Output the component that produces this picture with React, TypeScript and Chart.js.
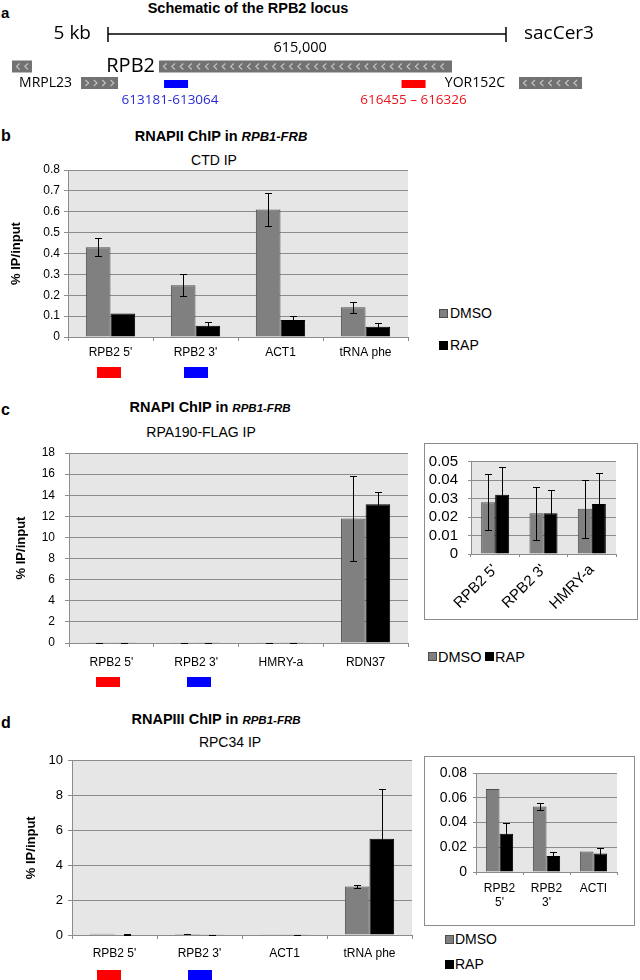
import React, { useEffect, useRef } from "react";
import { Chart, registerables } from "chart.js";
Chart.register(...registerables);

const AX = "'Liberation Sans', Arial, Helvetica, sans-serif";
const OS = "'Open Sans', 'Noto Sans', sans-serif";

// ---------- panel a: RPB2 locus schematic (genomic bp) ----------
const locusMinBp = 610700;
const locusMaxBp = 619507;
const scaleBarBp = [612186, 617663];
const scaleBarText = "5 kb";
const assemblyText = "sacCer3";
const coordTickText = "615,000";
const coordTickBp = 614830;
const geneStartBp = [610865, 612888, 611815, 617842];
const geneEndBp = [611140, 616920, 612324, 618709];
const geneStrand = [-1, -1, 1, -1];
const geneRow = [0, 0, 1, 1];
const geneName = ["", "RPB2", "MRPL23", "YOR152C"];
const primerStartBp = [613064, 616326];
const primerEndBp = [613181, 616455];
const primerText = ["613181-613064", "616455 \u2013 616326"];

// ---------- shared ----------
const seriesNames = ["DMSO", "RAP"];
const markerColors = ["#ff0000", "#0000ff"]; // under RPB2 5' and RPB2 3'

// ---------- panel b: RNAPII ChIP ----------
const catsB = ["RPB2 5'", "RPB2 3'", "ACT1", "tRNA phe"];
const dmsoB = [0.43, 0.248, 0.611, 0.143];
const dmsoErrB = [0.042, 0.052, 0.077, 0.027];
const rapB = [0.112, 0.054, 0.081, 0.049];
const rapErrB = [0, 0.017, 0.02, 0.017];
const yMaxB = 0.8;
const yStepB = 0.1;

// ---------- panel c: RNAPI ChIP ----------
const catsC = ["RPB2 5'", "RPB2 3'", "HMRY-a", "RDN37"];
const dmsoC = [0.028, 0.022, 0.0245, 11.8];
const dmsoErrC = [0.0152, 0.0143, 0.0157, 4.0];
const rapC = [0.032, 0.022, 0.027, 13.15];
const rapErrC = [0.015, 0.0127, 0.017, 1.2];
const yMaxC = 18;
const yStepC = 2;
const insetCatsC = ["RPB2 5'", "RPB2 3'", "HMRY-a"];
const insetYMaxC = 0.05;
const insetYStepC = 0.01;

// ---------- panel d: RNAPIII ChIP ----------
const catsD = ["RPB2 5'", "RPB2 3'", "ACT1", "tRNA phe"];
const dmsoD = [0.067, 0.053, 0.0165, 2.78];
const dmsoErrD = [0, 0.0027, 0, 0.09];
const rapD = [0.031, 0.013, 0.015, 5.52];
const rapErrD = [0.009, 0.003, 0.004, 2.83];
const yMaxD = 10;
const yStepD = 2;
const insetCatsD = [["RPB2", "5'"], ["RPB2", "3'"], "ACTI"];
const insetYMaxD = 0.08;
const insetYStepD = 0.02;

const GRID = "#8c8c8c";
const DMSO_FILL = "#808080";
const DMSO_EDGE = "#4d4d4d";

function makeSchematic(canvas: HTMLCanvasElement) {
  const plugin = {
    id: "locus",
    afterDraw(c: any) {
      const ctx = c.ctx;
      const xs = c.scales.x;
      const px = (b: number) => xs.getPixelForValue(b);
      const rowY = [66.5, 83];
      const boxH = 12;
      ctx.save();
      // scale bar
      const y0 = 34;
      const sx0 = px(scaleBarBp[0]);
      const sx1 = px(scaleBarBp[1]);
      ctx.strokeStyle = "#000";
      ctx.lineWidth = 1.5;
      ctx.beginPath();
      ctx.moveTo(sx0, y0);
      ctx.lineTo(sx1, y0);
      ctx.moveTo(sx0, 27);
      ctx.lineTo(sx0, 42);
      ctx.moveTo(sx1, 27);
      ctx.lineTo(sx1, 42);
      ctx.stroke();
      ctx.fillStyle = "#000";
      ctx.textBaseline = "middle";
      ctx.font = `19px ${OS}`;
      ctx.textAlign = "right";
      ctx.fillText(scaleBarText, sx0 - 17, y0);
      ctx.textAlign = "left";
      ctx.fillText(assemblyText, sx1 + 18, y0);
      ctx.font = `14.5px ${OS}`;
      ctx.textAlign = "center";
      ctx.fillText(coordTickText, px(coordTickBp), 48);
      // genes
      const labelGap = [0, 4, 9, 14];
      const labelSize = [14, 20, 14, 14];
      geneStartBp.forEach((s, i) => {
        const x0 = px(s);
        const x1 = px(geneEndBp[i]);
        const cy = rowY[geneRow[i]];
        ctx.fillStyle = "#727272";
        ctx.fillRect(x0, cy - boxH / 2, x1 - x0, boxH);
        ctx.strokeStyle = "#c4c4c4";
        ctx.lineWidth = 1.1;
        ctx.beginPath();
        const d = -geneStrand[i] * 1.6;
        for (let cx = x0 + 6; cx < x1 - 3; cx += 8.4) {
          ctx.moveTo(cx + d, cy - 3);
          ctx.lineTo(cx - d, cy);
          ctx.lineTo(cx + d, cy + 3);
        }
        ctx.stroke();
        if (geneName[i]) {
          ctx.fillStyle = "#000";
          ctx.font = `${labelSize[i]}px ${OS}`;
          ctx.textAlign = "right";
          ctx.fillText(geneName[i], x0 - labelGap[i], cy);
        }
      });
      // primers
      const primerFill = ["#0000ff", "#ff0000"];
      const primerInk = ["#2a2ad6", "#e8141c"];
      const textShift = [-6, 0];
      primerStartBp.forEach((s, i) => {
        const cxp = px((s + primerEndBp[i]) / 2);
        ctx.fillStyle = primerFill[i];
        ctx.fillRect(cxp - 12, 80, 24, 8);
        ctx.fillStyle = primerInk[i];
        ctx.font = `13.5px ${OS}`;
        ctx.textAlign = "center";
        ctx.fillText(primerText[i], cxp + textShift[i], 100);
      });
      ctx.restore();
    },
  };
  return new Chart(canvas, {
    type: "scatter",
    data: { datasets: [] },
    options: {
      responsive: false,
      animation: false,
      layout: { padding: 0 },
      plugins: { legend: { display: false }, tooltip: { enabled: false } },
      scales: {
        x: { type: "linear", min: locusMinBp, max: locusMaxBp, display: false },
        y: { type: "linear", min: 0, max: 1, display: false },
      },
    },
    plugins: [plugin],
  } as any);
}

function makeBars(canvas: HTMLCanvasElement, s: any) {
  const bg = {
    id: "bg",
    beforeDraw(c: any) {
      const { ctx, chartArea: a } = c;
      ctx.save();
      ctx.fillStyle = "#e6e6e6";
      ctx.fillRect(a.left, a.top, a.right - a.left, a.bottom - a.top);
      ctx.restore();
    },
  };
  const err = {
    id: "err",
    afterDatasetsDraw(c: any) {
      const ctx = c.ctx;
      const y = c.scales.y;
      c.data.datasets.forEach((ds: any, di: number) => {
        const meta = c.getDatasetMeta(di);
        meta.data.forEach((bar: any, i: number) => {
          const e = ds.errors[i];
          if (!e) return;
          const v = ds.data[i];
          const x = Math.round(bar.x) + 0.5;
          const yt = Math.round(y.getPixelForValue(v + e)) + 0.5;
          const yb = Math.round(y.getPixelForValue(Math.max(0, v - e))) + 0.5;
          ctx.save();
          ctx.strokeStyle = "#000";
          ctx.lineWidth = 1;
          ctx.beginPath();
          ctx.moveTo(x, yt);
          ctx.lineTo(x, yb);
          ctx.moveTo(x - s.cap, yt);
          ctx.lineTo(x + s.cap, yt);
          ctx.moveTo(x - s.cap, yb);
          ctx.lineTo(x + s.cap, yb);
          ctx.stroke();
          ctx.restore();
        });
      });
    },
  };
  const mk = {
    id: "mk",
    afterDraw(c: any) {
      if (!s.markers) return;
      const ctx = c.ctx;
      const xs = c.scales.x;
      const a = c.chartArea;
      ctx.save();
      markerColors.forEach((col, i) => {
        const cx = xs.getPixelForValue(i) + s.markers.shift[i];
        ctx.fillStyle = col;
        ctx.fillRect(Math.round(cx - s.markers.width / 2), a.bottom + s.markers.offset, s.markers.width, s.markers.height);
      });
      ctx.restore();
    },
  };
  return new Chart(canvas, {
    type: "bar",
    data: {
      labels: s.labels,
      datasets: [
        { label: seriesNames[0], data: s.dmso, errors: s.dmsoErr, backgroundColor: DMSO_FILL, borderColor: DMSO_EDGE, borderWidth: 1 },
        { label: seriesNames[1], data: s.rap, errors: s.rapErr, backgroundColor: "#000", borderColor: "#000", borderWidth: 1 },
      ],
    },
    options: {
      responsive: false,
      maintainAspectRatio: false,
      animation: false,
      layout: { padding: { left: 0, top: s.padTop, right: s.padRight, bottom: 0 } },
      plugins: { legend: { display: false }, tooltip: { enabled: false }, title: { display: false } },
      datasets: { bar: { categoryPercentage: 0.58, barPercentage: 1 } },
      scales: {
        x: {
          grid: { display: true, drawOnChartArea: false, drawTicks: true, tickLength: s.tickLen, color: GRID, offset: true },
          border: { display: true, color: GRID },
          ticks: {
            color: "#000",
            font: { family: AX, size: s.catFont, lineHeight: s.catLineHeight || 1.2 },
            padding: s.catPad,
            autoSkip: false,
            maxRotation: s.rotate || 0,
            minRotation: s.rotate || 0,
          },
          afterFit: (sc: any) => {
            sc.height = s.axisH;
          },
        },
        y: {
          min: 0,
          max: s.yMax,
          grid: { color: GRID, tickLength: s.tickLen, drawTicks: true },
          border: { display: true, color: GRID },
          ticks: {
            stepSize: s.yStep,
            autoSkip: false,
            maxTicksLimit: 30,
            color: "#000",
            font: { family: AX, size: s.tickFont, lineHeight: 1 },
            padding: s.tickPad,
            callback: (v: any) => String(+Number(v).toFixed(3)),
          },
          title: s.yTitle
            ? { display: true, text: s.yTitle, color: "#000", font: { family: AX, size: 13, weight: "bold" }, padding: { top: s.yTitlePad, bottom: 0 } }
            : { display: false },
          afterFit: (sc: any) => {
            sc.width = s.axisW;
          },
        },
      },
    },
    plugins: [bg, err, mk],
  } as any);
}

const T = ({ x, y, align = "left", size = 14, bold = false, children }: any) => (
  <div
    style={{
      position: "absolute",
      left: x,
      top: y,
      transform: `translate(${align === "center" ? "-50%" : align === "right" ? "-100%" : "0"}, -50%)`,
      whiteSpace: "nowrap",
      lineHeight: 1,
      fontFamily: AX,
      fontSize: size,
      fontWeight: bold ? "bold" : "normal",
      color: "#000",
    }}
  >
    {children}
  </div>
);

const Sq = ({ x, y, dark }: any) => (
  <div
    style={{
      position: "absolute",
      left: x,
      top: y,
      width: 9,
      height: 9,
      boxSizing: "border-box",
      background: dark ? "#000" : DMSO_FILL,
      border: `1px solid ${dark ? "#000" : DMSO_EDGE}`,
    }}
  />
);

const cv = (x: number, y: number, w: number, h: number) => ({
  position: "absolute" as const,
  left: x,
  top: y,
  width: w,
  height: h,
});

export default function App() {
  const aRef = useRef<HTMLCanvasElement>(null);
  const bRef = useRef<HTMLCanvasElement>(null);
  const cRef = useRef<HTMLCanvasElement>(null);
  const ciRef = useRef<HTMLCanvasElement>(null);
  const dRef = useRef<HTMLCanvasElement>(null);
  const diRef = useRef<HTMLCanvasElement>(null);

  useEffect(() => {
    const charts = [
      makeSchematic(aRef.current!),
      makeBars(bRef.current!, {
        labels: catsB, dmso: dmsoB, dmsoErr: dmsoErrB, rap: rapB, rapErr: rapErrB,
        yMax: yMaxB, yStep: yStepB,
        axisW: 68, padTop: 9, padRight: 12, axisH: 45,
        tickFont: 12, tickLen: 4, tickPad: 4, catFont: 12, catPad: 4,
        yTitle: "% IP/input", yTitlePad: 9,
        markers: { offset: 30, height: 11, width: 24, shift: [-2, 0] }, cap: 3.5,
      }),
      makeBars(cRef.current!, {
        labels: catsC, dmso: dmsoC, dmsoErr: dmsoErrC, rap: rapC, rapErr: rapErrC,
        yMax: yMaxC, yStep: yStepC,
        axisW: 69, padTop: 8, padRight: 12, axisH: 49,
        tickFont: 12, tickLen: 4, tickPad: 10, catFont: 12, catPad: 8,
        yTitle: "% IP/input", yTitlePad: 14,
        markers: { offset: 34, height: 10, width: 24, shift: [-3, 3] }, cap: 3.5,
      }),
      makeBars(ciRef.current!, {
        labels: insetCatsC, dmso: dmsoC.slice(0, 3), dmsoErr: dmsoErrC.slice(0, 3), rap: rapC.slice(0, 3), rapErr: rapErrC.slice(0, 3),
        yMax: insetYMaxC, yStep: insetYStepC,
        axisW: 46, padTop: 16, padRight: 20, axisH: 64,
        tickFont: 15, tickLen: 3, tickPad: 10, catFont: 15, catPad: 4, rotate: 45,
        cap: 3.5,
      }),
      makeBars(dRef.current!, {
        labels: catsD, dmso: dmsoD, dmsoErr: dmsoErrD, rap: rapD, rapErr: rapErrD,
        yMax: yMaxD, yStep: yStepD,
        axisW: 72, padTop: 8, padRight: 8, axisH: 45,
        tickFont: 13, tickLen: 4, tickPad: 5, catFont: 12, catPad: 7,
        yTitle: "% IP/input", yTitlePad: 24,
        markers: { offset: 35, height: 10, width: 24, shift: [-6, 0] }, cap: 3.5,
      }),
      makeBars(diRef.current!, {
        labels: insetCatsD, dmso: dmsoD.slice(0, 3), dmsoErr: dmsoErrD.slice(0, 3), rap: rapD.slice(0, 3), rapErr: rapErrD.slice(0, 3),
        yMax: insetYMaxD, yStep: insetYStepD,
        axisW: 51, padTop: 16, padRight: 16, axisH: 52,
        tickFont: 14, tickLen: 3, tickPad: 6, catFont: 12, catLineHeight: 14 / 12, catPad: 7,
        cap: 3.5,
      }),
    ];
    return () => charts.forEach((c) => c.destroy());
  }, []);

  return (
    <div style={{ position: "absolute", left: 0, top: 0, width: 640, height: 980, background: "#fff", overflow: "hidden" }}>
      {/* panel a */}
      <T x={1} y={12} size={15} bold>a</T>
      <T x={248} y={8} size={14.5} bold align="center">Schematic of the RPB2 locus</T>
      <canvas ref={aRef} width={640} height={110} style={cv(0, 0, 640, 110)} />

      {/* panel b */}
      <T x={1} y={136} size={16} bold>b</T>
      <T x={221} y={136} size={14.5} bold align="center">
        RNAPII ChIP in <span style={{ fontStyle: "italic", fontSize: 13 }}>RPB1-FRB</span>
      </T>
      <T x={214} y={160} size={14} align="center">CTD IP</T>
      <canvas ref={bRef} width={420} height={222} style={cv(0, 160, 420, 222)} />
      <Sq x={439} y={309} />
      <T x={450} y={313} size={14}>{seriesNames[0]}</T>
      <Sq x={439} y={341} dark />
      <T x={450} y={345} size={14}>{seriesNames[1]}</T>

      {/* panel c */}
      <T x={1} y={410} size={16} bold>c</T>
      <T x={210} y={407} size={14.5} bold align="center">
        RNAPI ChIP in <span style={{ fontStyle: "italic", fontSize: 11.5 }}>RPB1-FRB</span>
      </T>
      <T x={201} y={432} size={14} align="center">RPA190-FLAG IP</T>
      <canvas ref={cRef} width={420} height={255} style={cv(0, 437, 420, 255)} />
      <div style={{ position: "absolute", left: 424, top: 443, width: 214, height: 177, boxSizing: "border-box", border: "1px solid #8c8c8c", background: "#fff" }} />
      <canvas ref={ciRef} width={211} height={174} style={cv(425, 444, 211, 174)} />
      <Sq x={428} y={652} />
      <T x={438} y={657} size={14.5}>{seriesNames[0]}</T>
      <Sq x={485} y={652} dark />
      <T x={495} y={657} size={14.5}>{seriesNames[1]}</T>

      {/* panel d */}
      <T x={1} y={723} size={16} bold>d</T>
      <T x={216} y={719} size={14.5} bold align="center">
        RNAPIII ChIP in <span style={{ fontStyle: "italic", fontSize: 11.5 }}>RPB1-FRB</span>
      </T>
      <T x={230} y={742} size={14} align="center">RPC34 IP</T>
      <canvas ref={dRef} width={420} height={231} style={cv(0, 749, 420, 231)} />
      <div style={{ position: "absolute", left: 424, top: 756, width: 211, height: 170, boxSizing: "border-box", border: "1px solid #8c8c8c", background: "#fff" }} />
      <canvas ref={diRef} width={208} height={167} style={cv(425, 757, 208, 167)} />
      <Sq x={445} y={935} />
      <T x={455} y={939} size={14}>{seriesNames[0]}</T>
      <Sq x={445} y={960} dark />
      <T x={455} y={964} size={14}>{seriesNames[1]}</T>
    </div>
  );
}
